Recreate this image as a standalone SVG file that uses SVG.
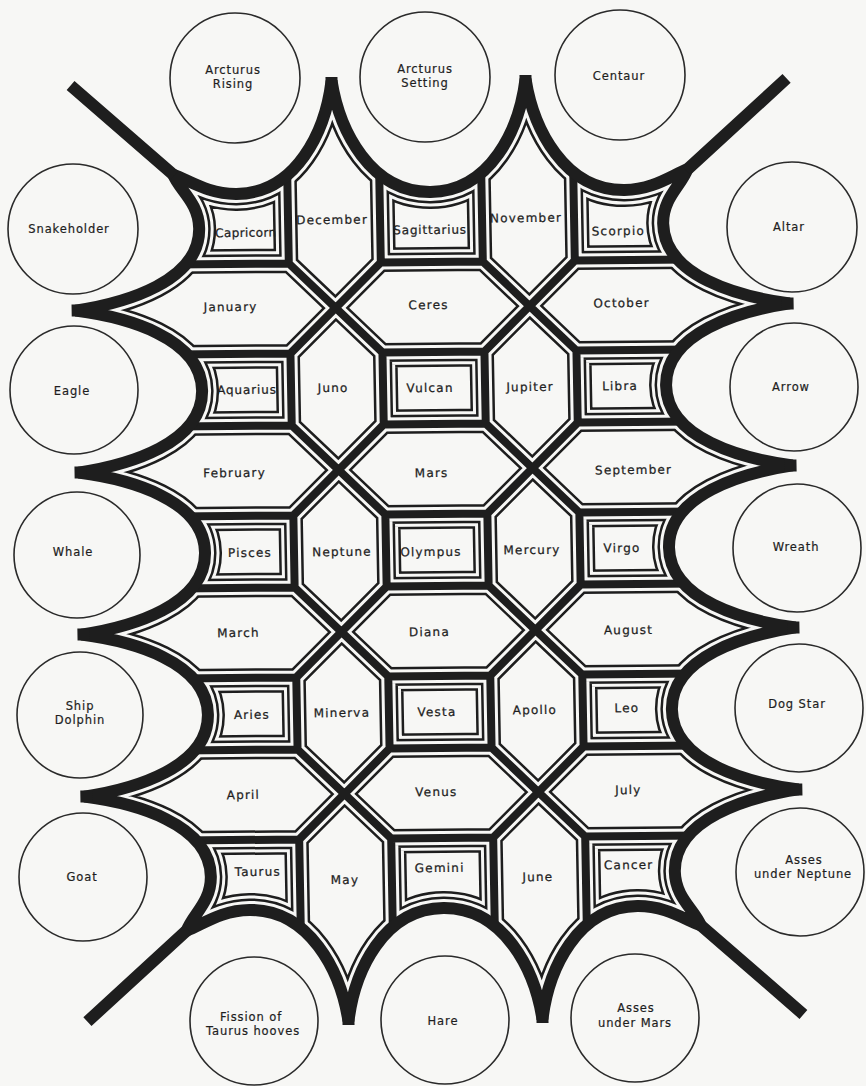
<svg xmlns="http://www.w3.org/2000/svg" width="866" height="1086" viewBox="0 0 866 1086">
<style>
.bg{fill:#f7f7f5}
.k2g{fill:none;stroke:#1e1e1e;stroke-width:30}
.w2g{fill:none;stroke:#f7f7f5;stroke-width:25}
.k2b{fill:none;stroke:#1e1e1e;stroke-width:34}
.w2b{fill:none;stroke:#f7f7f5;stroke-width:29}
.k1g{fill:none;stroke:#1e1e1e;stroke-width:19}
.w1g{fill:none;stroke:#f7f7f5;stroke-width:14}
.k1b{fill:none;stroke:#1e1e1e;stroke-width:23}
.w1b{fill:none;stroke:#f7f7f5;stroke-width:18}
.gw{fill:none;stroke:#1e1e1e;stroke-width:8}
.bw{fill:none;stroke:#1e1e1e;stroke-width:12;stroke-miterlimit:3}
.ring{fill:none;stroke:#2a2a2a;stroke-width:1.6}
.lbl{font-family:"DejaVu Sans","Liberation Sans",sans-serif;font-size:12px;letter-spacing:1.2px;text-anchor:middle;fill:#1e1e1e;stroke:#1e1e1e;stroke-width:0.25}
.cl{font-family:"DejaVu Sans","Liberation Sans",sans-serif;font-size:11.5px;letter-spacing:0.9px;text-anchor:middle;fill:#1e1e1e;stroke:#1e1e1e;stroke-width:0.2}
</style>
<defs>
<path id="bnd" d="M180,172 C196,178 215,192 243,192 C303,192 333,130 340,80 C347,130 377,192 437,192 C497,192 527,130 534,80 C541,130 571,192 631,192 C659,192 678,178 694,172 C688,188 669,200 669,226 C669,279 744,300 794,307 C744,314 669,335 669,388 C669,441 744,462 794,469 C744,476 669,497 669,550 C669,603 744,624 794,631 C744,638 669,659 669,712 C669,765 744,786 794,793 C744,800 669,821 669,874 C669,900 688,912 694,928 C678,922 659,908 631,908 C571,908 541,970 534,1020 C527,970 497,908 437,908 C377,908 347,970 340,1020 C333,970 303,908 243,908 C215,908 196,922 180,928 C186,912 205,900 205,874 C205,821 130,800 80,793 C130,786 205,765 205,712 C205,659 130,638 80,631 C130,624 205,603 205,550 C205,497 130,476 80,469 C130,462 205,441 205,388 C205,335 130,314 80,307 C130,300 205,279 205,226 C205,200 186,188 180,172 Z"/>
<path id="grid" d="M150,262 H294 L340,307 L386,262 H488 L534,307 L580,262 H724 M150,352 H294 L340,307 L386,352 H488 L534,307 L580,352 H724 M150,424 H294 L340,469 L386,424 H488 L534,469 L580,424 H724 M150,514 H294 L340,469 L386,514 H488 L534,469 L580,514 H724 M150,586 H294 L340,631 L386,586 H488 L534,631 L580,586 H724 M150,676 H294 L340,631 L386,676 H488 L534,631 L580,676 H724 M150,748 H294 L340,793 L386,748 H488 L534,793 L580,748 H724 M150,838 H294 L340,793 L386,838 H488 L534,793 L580,838 H724 M294,100 V262 M294,352 V424 M294,514 V586 M294,676 V748 M294,838 V1000 M386,100 V262 M386,352 V424 M386,514 V586 M386,676 V748 M386,838 V1000 M488,100 V262 M488,352 V424 M488,514 V586 M488,676 V748 M488,838 V1000 M580,100 V262 M580,352 V424 M580,514 V586 M580,676 V748 M580,838 V1000"/>
<path id="spikes" d="M76,307 H88 M76,469 H88 M76,631 H88 M76,793 H88 M786,307 H798 M786,469 H798 M786,631 H798 M786,793 H798 M340,76 V88 M534,76 V88 M340,1012 V1024 M534,1012 V1024 M79,82 L181,173 M795,82 L693,173 M79,1018 L181,927 M795,1018 L693,927"/>
<clipPath id="inside"><use href="#bnd"/></clipPath>
<clipPath id="q00"><rect x="0" y="0" width="294" height="262"/></clipPath>
<clipPath id="q20"><rect x="386" y="0" width="102" height="262"/></clipPath>
<clipPath id="q40"><rect x="580" y="0" width="300" height="262"/></clipPath>
<clipPath id="q02"><rect x="0" y="352" width="294" height="72"/></clipPath>
<clipPath id="q22"><rect x="386" y="352" width="102" height="72"/></clipPath>
<clipPath id="q42"><rect x="580" y="352" width="300" height="72"/></clipPath>
<clipPath id="q04"><rect x="0" y="514" width="294" height="72"/></clipPath>
<clipPath id="q24"><rect x="386" y="514" width="102" height="72"/></clipPath>
<clipPath id="q44"><rect x="580" y="514" width="300" height="72"/></clipPath>
<clipPath id="q06"><rect x="0" y="676" width="294" height="72"/></clipPath>
<clipPath id="q26"><rect x="386" y="676" width="102" height="72"/></clipPath>
<clipPath id="q46"><rect x="580" y="676" width="300" height="72"/></clipPath>
<clipPath id="q08"><rect x="0" y="838" width="294" height="262"/></clipPath>
<clipPath id="q28"><rect x="386" y="838" width="102" height="262"/></clipPath>
<clipPath id="q48"><rect x="580" y="838" width="300" height="262"/></clipPath>
</defs>
<rect class="bg" x="0" y="0" width="866" height="1086"/>
<g id="tessellation" transform="matrix(1,-0.01,0.018,1,-9.9,4.37)">
<g id="cell-borders" clip-path="url(#inside)">
<g id="frame-capricorn" clip-path="url(#q00)"><use href="#grid" class="k2g"/><use href="#bnd" class="k2b"/><use href="#grid" class="w2g"/><use href="#bnd" class="w2b"/></g>
<g id="frame-sagittarius" clip-path="url(#q20)"><use href="#grid" class="k2g"/><use href="#bnd" class="k2b"/><use href="#grid" class="w2g"/><use href="#bnd" class="w2b"/></g>
<g id="frame-scorpio" clip-path="url(#q40)"><use href="#grid" class="k2g"/><use href="#bnd" class="k2b"/><use href="#grid" class="w2g"/><use href="#bnd" class="w2b"/></g>
<g id="frame-aquarius" clip-path="url(#q02)"><use href="#grid" class="k2g"/><use href="#bnd" class="k2b"/><use href="#grid" class="w2g"/><use href="#bnd" class="w2b"/></g>
<g id="frame-vulcan" clip-path="url(#q22)"><use href="#grid" class="k2g"/><use href="#grid" class="w2g"/></g>
<g id="frame-libra" clip-path="url(#q42)"><use href="#grid" class="k2g"/><use href="#bnd" class="k2b"/><use href="#grid" class="w2g"/><use href="#bnd" class="w2b"/></g>
<g id="frame-pisces" clip-path="url(#q04)"><use href="#grid" class="k2g"/><use href="#bnd" class="k2b"/><use href="#grid" class="w2g"/><use href="#bnd" class="w2b"/></g>
<g id="frame-olympus" clip-path="url(#q24)"><use href="#grid" class="k2g"/><use href="#grid" class="w2g"/></g>
<g id="frame-virgo" clip-path="url(#q44)"><use href="#grid" class="k2g"/><use href="#bnd" class="k2b"/><use href="#grid" class="w2g"/><use href="#bnd" class="w2b"/></g>
<g id="frame-aries" clip-path="url(#q06)"><use href="#grid" class="k2g"/><use href="#bnd" class="k2b"/><use href="#grid" class="w2g"/><use href="#bnd" class="w2b"/></g>
<g id="frame-vesta" clip-path="url(#q26)"><use href="#grid" class="k2g"/><use href="#grid" class="w2g"/></g>
<g id="frame-leo" clip-path="url(#q46)"><use href="#grid" class="k2g"/><use href="#bnd" class="k2b"/><use href="#grid" class="w2g"/><use href="#bnd" class="w2b"/></g>
<g id="frame-taurus" clip-path="url(#q08)"><use href="#grid" class="k2g"/><use href="#bnd" class="k2b"/><use href="#grid" class="w2g"/><use href="#bnd" class="w2b"/></g>
<g id="frame-gemini" clip-path="url(#q28)"><use href="#grid" class="k2g"/><use href="#bnd" class="k2b"/><use href="#grid" class="w2g"/><use href="#bnd" class="w2b"/></g>
<g id="frame-cancer" clip-path="url(#q48)"><use href="#grid" class="k2g"/><use href="#bnd" class="k2b"/><use href="#grid" class="w2g"/><use href="#bnd" class="w2b"/></g>
<use href="#grid" class="k1g"/><use href="#bnd" class="k1b"/>
<use href="#grid" class="w1g"/><use href="#bnd" class="w1b"/>
<use href="#grid" class="gw"/>
</g>
<g id="walls">
<use href="#bnd" class="bw"/>
<use href="#spikes" class="bw"/>
</g>
<g id="capricorn"><text class="lbl" x="252" y="235" textLength="62">Capricorn</text></g>
<g id="december"><text class="lbl" x="338" y="223">December</text></g>
<g id="sagittarius"><text class="lbl" x="436" y="234" textLength="74">Sagittarius</text></g>
<g id="november"><text class="lbl" x="532" y="223">November</text></g>
<g id="scorpio"><text class="lbl" x="624" y="237">Scorpio</text></g>
<g id="january"><text class="lbl" x="235" y="309">January</text></g>
<g id="ceres"><text class="lbl" x="433" y="309">Ceres</text></g>
<g id="october"><text class="lbl" x="626" y="309">October</text></g>
<g id="aquarius"><text class="lbl" x="250" y="392" textLength="60">Aquarius</text></g>
<g id="juno"><text class="lbl" x="336" y="391">Juno</text></g>
<g id="vulcan"><text class="lbl" x="433" y="392">Vulcan</text></g>
<g id="jupiter"><text class="lbl" x="533" y="392">Jupiter</text></g>
<g id="libra"><text class="lbl" x="623" y="392">Libra</text></g>
<g id="february"><text class="lbl" x="236" y="475">February</text></g>
<g id="mars"><text class="lbl" x="433" y="477">Mars</text></g>
<g id="september"><text class="lbl" x="635" y="476">September</text></g>
<g id="pisces"><text class="lbl" x="250" y="555">Pisces</text></g>
<g id="neptune"><text class="lbl" x="342" y="555">Neptune</text></g>
<g id="olympus"><text class="lbl" x="431" y="556">Olympus</text></g>
<g id="mercury"><text class="lbl" x="532" y="555">Mercury</text></g>
<g id="virgo"><text class="lbl" x="622" y="554">Virgo</text></g>
<g id="march"><text class="lbl" x="237" y="635">March</text></g>
<g id="diana"><text class="lbl" x="428" y="636">Diana</text></g>
<g id="august"><text class="lbl" x="627" y="636">August</text></g>
<g id="aries"><text class="lbl" x="249" y="717">Aries</text></g>
<g id="minerva"><text class="lbl" x="339" y="716">Minerva</text></g>
<g id="vesta"><text class="lbl" x="434" y="716">Vesta</text></g>
<g id="apollo"><text class="lbl" x="532" y="715">Apollo</text></g>
<g id="leo"><text class="lbl" x="624" y="714">Leo</text></g>
<g id="april"><text class="lbl" x="239" y="797">April</text></g>
<g id="venus"><text class="lbl" x="432" y="796">Venus</text></g>
<g id="july"><text class="lbl" x="624" y="796">July</text></g>
<g id="taurus"><text class="lbl" x="252" y="874">Taurus</text></g>
<g id="may"><text class="lbl" x="339" y="883">May</text></g>
<g id="gemini"><text class="lbl" x="434" y="872">Gemini</text></g>
<g id="june"><text class="lbl" x="532" y="882">June</text></g>
<g id="cancer"><text class="lbl" x="623" y="871">Cancer</text></g>
</g>
<g id="arcturus-rising"><circle class="ring" cx="235" cy="78" r="65"/><text class="cl" x="233" y="74">Arcturus</text><text class="cl" x="233" y="88">Rising</text></g>
<g id="arcturus-setting"><circle class="ring" cx="425" cy="77" r="65"/><text class="cl" x="425" y="73">Arcturus</text><text class="cl" x="425" y="87">Setting</text></g>
<g id="centaur"><circle class="ring" cx="620" cy="75" r="65"/><text class="cl" x="619" y="80">Centaur</text></g>
<g id="snakeholder"><circle class="ring" cx="73" cy="229" r="65"/><text class="cl" x="69" y="233">Snakeholder</text></g>
<g id="altar"><circle class="ring" cx="792" cy="227" r="65"/><text class="cl" x="789" y="231">Altar</text></g>
<g id="eagle"><circle class="ring" cx="74" cy="390" r="64"/><text class="cl" x="72" y="395">Eagle</text></g>
<g id="arrow"><circle class="ring" cx="794" cy="387" r="64"/><text class="cl" x="791" y="391">Arrow</text></g>
<g id="whale"><circle class="ring" cx="77" cy="555" r="63"/><text class="cl" x="73" y="556">Whale</text></g>
<g id="wreath"><circle class="ring" cx="797" cy="548" r="64"/><text class="cl" x="796" y="551">Wreath</text></g>
<g id="ship-dolphin"><circle class="ring" cx="80" cy="715" r="63"/><text class="cl" x="80" y="710">Ship</text><text class="cl" x="80" y="724">Dolphin</text></g>
<g id="dog-star"><circle class="ring" cx="799" cy="708" r="64"/><text class="cl" x="797" y="708">Dog Star</text></g>
<g id="goat"><circle class="ring" cx="83" cy="877" r="64"/><text class="cl" x="82" y="881">Goat</text></g>
<g id="asses-under-neptune"><circle class="ring" cx="800" cy="872" r="64"/><text class="cl" x="804" y="864">Asses</text><text class="cl" x="803" y="878">under Neptune</text></g>
<g id="fission-of-taurus-hooves"><circle class="ring" cx="254" cy="1021" r="64"/><text class="cl" x="251" y="1021">Fission of</text><text class="cl" x="253" y="1035">Taurus hooves</text></g>
<g id="hare"><circle class="ring" cx="445" cy="1020" r="64"/><text class="cl" x="443" y="1025">Hare</text></g>
<g id="asses-under-mars"><circle class="ring" cx="635" cy="1018" r="64"/><text class="cl" x="636" y="1012">Asses</text><text class="cl" x="635" y="1027">under Mars</text></g>
</svg>
